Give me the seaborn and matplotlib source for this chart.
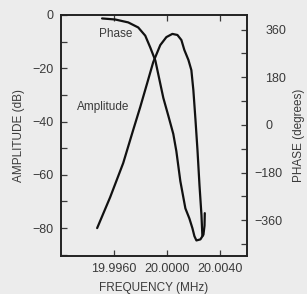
import numpy as np
import pandas as pd
import seaborn as sns
import matplotlib.pyplot as plt
from matplotlib.ticker import MultipleLocator, FixedLocator
from matplotlib.transforms import ScaledTranslation

# Values
amp_freq = [19.99472, 19.99570, 19.99668, 19.99743, 19.99796, 19.99849, 19.99894,
            19.99947, 19.99993, 20.00038, 20.00076, 20.00106, 20.00128, 20.00159,
            20.00181, 20.00196, 20.00212, 20.00227, 20.00242, 20.00257, 20.00264]
amp_db = [-80.0, -68.4, -55.6, -43.2, -34.6, -25.5, -17.7,
          -11.3, -8.3, -7.1, -7.5, -9.4, -13.1, -16.9,
          -20.7, -28.2, -39.4, -50.7, -63.8, -75.1, -83.0]

phase_freq = [19.99509, 19.99608, 19.99706, 19.99781, 19.99834, 19.99872, 19.99910,
              19.99970, 20.00008, 20.00045, 20.00068, 20.00098, 20.00136, 20.00166,
              20.00189, 20.00204, 20.00219, 20.00249, 20.00272, 20.00280, 20.00282]
phase_deg = [402, 398, 387, 368, 337, 292, 243,
             102, 34, -34, -99, -212, -315, -353,
             -390, -420, -436, -432, -414, -380, -333]

freq_ticks = [19.9960, 20.0000, 20.0040]
freq_labels = ["19.9960", "20.0000", "20.0040"]
amp_ticks = [0, -20, -40, -60, -80]
phase_ticks = [360, 180, 0, -180, -360]

amp = pd.DataFrame({"freq": amp_freq, "db": amp_db})
phase = pd.DataFrame({"freq": phase_freq, "deg": phase_deg})

sns.set_theme(style="ticks")
plt.rcParams['font.family'] = ['Liberation Sans', 'DejaVu Sans']
bg = "#ececec"
ink = "#3a3a3a"

fig = plt.figure(figsize=(3.07, 2.94), dpi=100, facecolor=bg)
ax = fig.add_axes([0.1987, 0.129, 0.606, 0.82])
ax.set_facecolor(bg)
ax2 = ax.twinx()

sns.lineplot(data=amp, x="freq", y="db", ax=ax, color="#111111", linewidth=1.6,
             sort=False, estimator=None)
sns.lineplot(data=phase, x="freq", y="deg", ax=ax2, color="#111111", linewidth=1.6,
             sort=False, estimator=None)

ax.set_xlim(19.992, 20.006)
ax.set_ylim(-90.5, 0)
ax2.set_ylim(-495, 415)

def fmt(t):
    return "0" if t == 0 else ("%d" % t if t > 0 else "\u2212%d" % abs(t))

ax.xaxis.set_major_locator(FixedLocator(freq_ticks))
ax.set_xticklabels(freq_labels)
ax.yaxis.set_major_locator(FixedLocator(amp_ticks))
ax.set_yticklabels([fmt(t) for t in amp_ticks])
ax.yaxis.set_minor_locator(MultipleLocator(10))
ax2.yaxis.set_major_locator(FixedLocator(phase_ticks))
ax2.set_yticklabels([fmt(t) for t in phase_ticks])
ax2.yaxis.set_minor_locator(FixedLocator([270, 90, -90, -270, -450]))

ax.tick_params(axis="both", which="both", direction="in", top=True, colors=ink,
               labelsize=9, length=4, width=0.9)
ax.tick_params(axis="x", pad=5)
ax.tick_params(axis="y", pad=5.5)
ax2.tick_params(axis="y", which="both", direction="in", colors=ink,
                labelsize=9, length=4, width=0.9, pad=13)

# minus signs hang to the left of the digits on the phase scale
for t, lab in zip(phase_ticks, ax2.get_yticklabels()):
    if t < 0:
        lab.set_transform(lab.get_transform() + ScaledTranslation(-0.11, 0, fig.dpi_scale_trans))

for a in (ax, ax2):
    for s in a.spines.values():
        s.set_visible(True)
        s.set_color("#222222")
        s.set_linewidth(1.2)

ax.set_xlabel("FREQUENCY (MHz)", fontsize=8.5, color=ink)
ax.set_ylabel("AMPLITUDE (dB)", fontsize=8.5, color=ink)
ax2.set_ylabel("PHASE (degrees)", fontsize=8.5, color=ink)
ax.xaxis.set_label_coords(0.5, -0.108)
ax.yaxis.set_label_coords(-0.191, 0.5)
ax2.yaxis.set_label_coords(1.245, 0.5)

ax.text(19.99615, -7.2, "Phase", fontsize=8.5, color=ink, ha="center", va="center")
ax.text(19.99517, -34.7, "Amplitude", fontsize=8.5, color=ink, ha="center", va="center")

fig.savefig("out.png", dpi=100, facecolor=bg)
